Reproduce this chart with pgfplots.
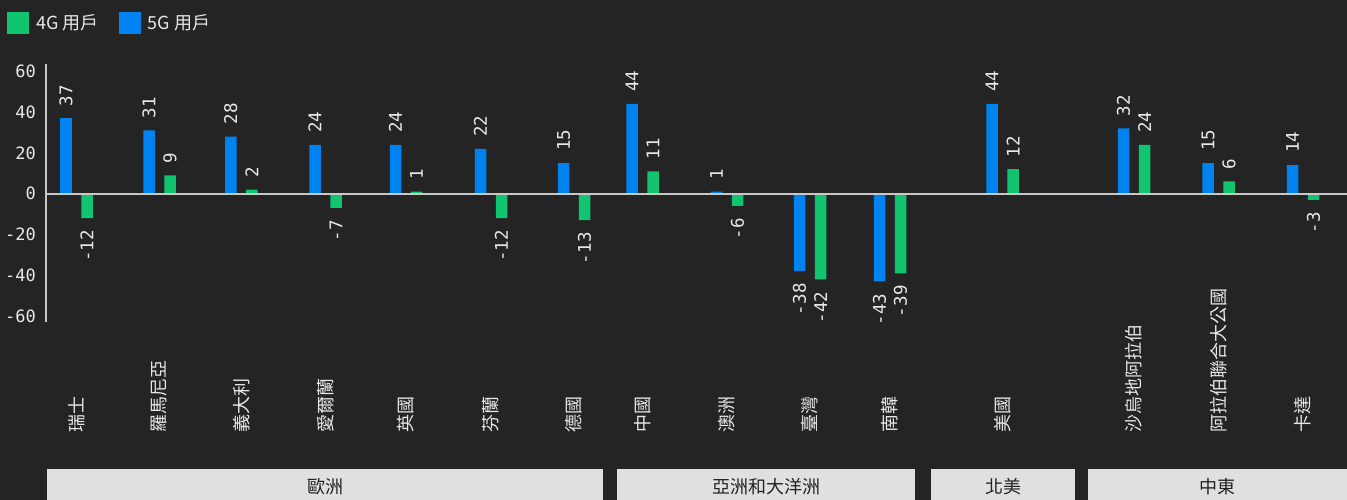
\documentclass[border=0pt]{standalone}
\usepackage{fontspec}
\setmainfont{Noto Sans CJK TC}
\newfontfamily\cjk{Noto Sans CJK TC}
\newfontfamily\mono{DejaVu Sans Mono}
\usepackage{pgfplots}
\pgfplotsset{compat=1.18}
\definecolor{bgc}{RGB}{36,36,36}
\definecolor{c5g}{RGB}{0,130,240}
\definecolor{c4g}{RGB}{16,196,112}
\definecolor{axc}{RGB}{200,200,200}
\definecolor{txc}{RGB}{232,232,232}
\definecolor{boxc}{RGB}{224,224,224}
\definecolor{boxt}{RGB}{34,34,34}
\begin{document}
\begin{tikzpicture}
\path[use as bounding box, fill=bgc] (0pt,0pt) rectangle (1347pt,500pt);
\begin{axis}[
  at={(46pt,178pt)}, anchor=south west,
  scale only axis, width=1301pt, height=258pt,
  xmin=46, xmax=1347, ymin=-62.9, ymax=63.6,
  enlargelimits=false, clip=false,
  ybar, bar width=11.5pt,
  axis y line=left, axis x line=bottom,
  y axis line style={-, draw=axc, line width=1.4pt},
  x axis line style={draw=none},
  major tick length=0pt, tick style={draw=none},
  ytick={-60,-40,-20,0,20,40,60},
  /pgf/number format/assume math mode=true,
  yticklabel style={font=\mono\fontsize{17}{17}\selectfont, text=txc, inner sep=0pt, xshift=-10pt},
  xtick={76.5,159.5,241.3,325.5,406,491,574,642.5,727,810,890,1002.5,1134,1218.5,1303},
  xticklabels={瑞士,羅馬尼亞,義大利,愛爾蘭,英國,芬蘭,德國,中國,澳洲,臺灣,南韓,美國,沙烏地阿拉伯,阿拉伯聯合大公國,卡達},
  xticklabel style={font=\cjk\fontsize{18}{18}\selectfont, text=txc, inner sep=0pt, yshift=-111pt, rotate=90, anchor=west},
  nodes near coords,
  visualization depends on={y \as \rawy},
  every node near coord/.append style={font=\mono\fontsize{17.5}{17.5}\selectfont, text=txc, inner ysep=0pt, inner xsep=12pt, rotate=90,
     /utils/exec={\ifdim\rawy pt<0pt \gdef\nnanchor{east}\else\gdef\nnanchor{west}\fi}, anchor=\nnanchor},
  legend style={at={(axis description cs:-0.0300,1.2016)}, anchor=north west, draw=none, fill=none, inner sep=0pt,
     legend columns=-1, font=\cjk\fontsize{18}{18}\selectfont, text=txc,
     /tikz/every even column/.append style={column sep=18pt}},
  legend image code/.code={\fill[#1] (0pt,-11pt) rectangle (22pt,11pt); \path (27pt,0pt);},
]
\addplot[fill=c4g, draw=none, bar shift=10.5pt] coordinates {
  (76.5,-12) (159.5,9) (241.3,2) (325.5,-7) (406,1) (491,-12) (574,-13) (642.5,11)
  (727,-6) (810,-42) (890,-39) (1002.5,12) (1134,24) (1218.5,6) (1303,-3)};
\addlegendentry{4G 用戶}
\addplot[fill=c5g, draw=none, bar shift=-10.5pt] coordinates {
  (76.5,37) (159.5,31) (241.3,28) (325.5,24) (406,24) (491,22) (574,15) (642.5,44)
  (727,1) (810,-38) (890,-43) (1002.5,44) (1134,32) (1218.5,15) (1303,14)};
\addlegendentry{5G 用戶}
\draw[axc, line width=2pt] (axis cs:46,0) -- (axis cs:1347,0);
\end{axis}
\fill[boxc] (47pt,0pt) rectangle (603pt,31pt);
\fill[boxc] (617pt,0pt) rectangle (915pt,31pt);
\fill[boxc] (931pt,0pt) rectangle (1075pt,31pt);
\fill[boxc] (1088pt,0pt) rectangle (1347pt,31pt);
\begin{scope}[every node/.style={font=\cjk\fontsize{18}{18}\selectfont, text=boxt, inner sep=0pt}]
\node at (325pt,13pt) {歐洲};
\node at (766pt,13pt) {亞洲和大洋洲};
\node at (1003pt,13pt) {北美};
\node at (1217.5pt,13pt) {中東};
\end{scope}
\end{tikzpicture}
\end{document}
